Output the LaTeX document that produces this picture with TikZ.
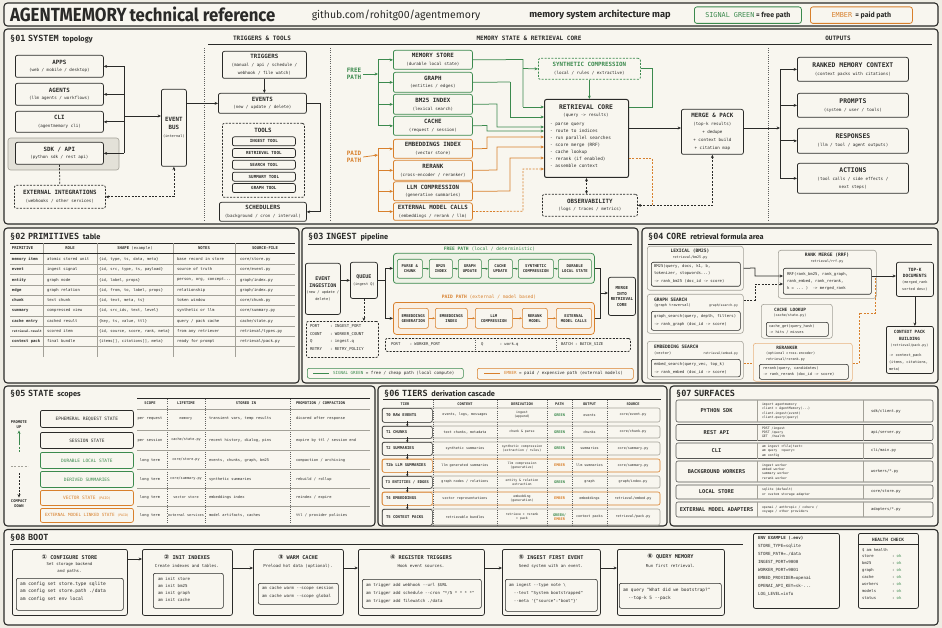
\documentclass[tikz,border=0pt]{standalone}
\usepackage{graphicx}
\usepackage{fontspec}
\setmonofont{DejaVu Sans Mono}
\renewcommand\familydefault{\ttdefault}
\newfontfamily\hsans{Fira Sans}
\newfontfamily\djs{DejaVu Sans}
\usetikzlibrary{arrows.meta,calc}
\definecolor{paper}{HTML}{EFEDE4}
\definecolor{panel}{HTML}{F8F6EF}
\definecolor{ink}{HTML}{2A2A28}
\definecolor{sg}{HTML}{3C8A4E}
\definecolor{em}{HTML}{D8802C}
\definecolor{gl}{HTML}{A3A198}
\definecolor{gfill}{HTML}{EEF2E6}
\definecolor{ofill}{HTML}{FAEFE2}
\definecolor{hl}{HTML}{E3E1D8}
\newcommand\fs[2]{\fontsize{#1}{#2}\selectfont}
\newcommand\hd{\bfseries\fs{5.8}{6.6}}
\newcommand\hdb{\bfseries\fs{6.4}{7}}
\newcommand\sbt{\fs{4.2}{5.2}}
\newcommand\BX[7]{\node[#1,anchor=north west,minimum width={#5-#3},minimum height={#6-#4}] (#2) at (#3,#4) {#7};}
\newcommand\secthd[3]{\node[anchor=base west,inner sep=0pt,font=\bfseries\fs{8.5}{9}] at (#1) {#2\hspace{2pt}{\hsans\bfseries\fs{7.4}{8} #3}};}
\newcommand\prow[6]{%
\node[tx,anchor=west,font=\bfseries\fs{3.9}{4.5}] at (12,#1) {#2};
\node[tx,anchor=west,font=\fs{3.9}{4.5}] at (47,#1) {#3};
\node[tx,anchor=west,font=\fs{3.8}{4.5}] at (99,#1) {#4};
\node[tx,anchor=west,font=\fs{3.9}{4.5}] at (177,#1) {#5};
\node[tx,anchor=west,font=\fs{3.9}{4.5}] at (240,#1) {#6};}
\newcommand\strow[5]{%
\node[tx,font=\fs{3.7}{4.5}] at (150,#1) {#2};
\node[tx,font=\fs{3.5}{4.5}] at (186,#1) {#3};
\node[tx,anchor=west,font=\fs{3.7}{4.5}] at (209,#1) {#4};
\node[tx,anchor=west,font=\fs{3.7}{4.5}] at (296,#1) {#5};}
\newcommand\tirow[6]{%
\node[tx,font=\fs{3.4}{4.2}] at (465,#1) {#2};
\node[tx,font=\fs{3.2}{3.9},align=center] at (522,#1) {#3};
\node[tx,font=\bfseries\fs{3.6}{4.2},align=center] at (559.5,#1) {#4};
\node[tx,font=\fs{3.4}{4.2}] at (589.5,#1) {#5};
\node[tx,font=\fs{3.4}{4.2}] at (633,#1) {#6};}
\newcommand\sfrow[5]{%
\draw[draw=ink!80,line width=0.6pt,rounded corners=2pt,fill=panel] (676,#1) rectangle (933,#2);
\draw[thin] (757,#1) -- (757,#2); \draw[thin] (863,#1) -- (863,#2);
\pgfmathsetmacro\ymid{(#1+#2)/2}
\node[tx,font=\bfseries\fs{5.3}{6}] at (716.5,\ymid) {#3};
\node[tx,anchor=west,align=left,font=\fs{3.2}{4.4}] at (762,\ymid) {#4};
\node[tx,anchor=west,font=\fs{3.8}{4.5}] at (871,\ymid) {#5};}
\begin{document}
\begin{tikzpicture}[x=1pt,y=-1pt,
  every node/.style={text=ink},
  tx/.style={inner sep=0pt,outer sep=0pt},
  pnl/.style={draw=ink,line width=1.1pt,rounded corners=3.5pt,fill=panel},
  nb/.style={draw=ink,line width=0.75pt,rounded corners=2pt,fill=panel,align=center,inner sep=0pt,font=\fs{4.2}{7.8}},
  gb/.style={nb,draw=sg},
  ob/.style={nb,draw=em},
  dsh/.style={dash pattern=on 2pt off 1.4pt},
  db/.style={nb,dsh},
  grp/.style={draw=gl,line width=0.6pt,rounded corners=2.5pt,fill=panel,inner sep=0pt},
  ln/.style={draw=ink,line width=0.75pt},
  gln/.style={ln,draw=sg},
  oln/.style={ln,draw=em},
  ar/.style={ln,-{Stealth[length=3.4pt,width=3pt]}},
  gar/.style={ar,draw=sg},
  oar/.style={ar,draw=em},
  dar/.style={ln,{Stealth[length=3.4pt,width=3pt]}-{Stealth[length=3.4pt,width=3pt]}},
  sar/.style={ln,line width=0.6pt,-{Stealth[length=2.4pt,width=2.2pt]}},
  stp/.style={gb,line width=0.6pt,font=\bfseries\fs{3.9}{4.8}},
  ostp/.style={ob,line width=0.6pt,font=\bfseries\fs{3.9}{4.8}},
  stb/.style={nb,font=\fs{4.5}{5}},
  sep/.style={draw=ink!75,line width=0.5pt,dash pattern=on 0.8pt off 1.4pt},
  rule/.style={draw=ink,line width=0.6pt},
  thin/.style={draw=gl,line width=0.4pt},
]
\useasboundingbox (0,0) rectangle (942,628);
\fill[paper] (0,0) rectangle (942,628);

% ---------- title bar ----------
\draw[pnl] (4,3) rectangle (938,26);
\node[tx,anchor=base west] (ttl) at (10,21.5) {\hsans\bfseries\scalebox{0.89}[1]{\fs{19}{19}AGENTMEMORY}\hspace{3pt}\scalebox{0.93}[1]{\fs{18}{18}technical reference}};
\node[tx] (gh) at (396,15) {\hsans\fs{10.5}{11}github.com/rohitg00/agentmemory};
\node[tx] (map) at (600,15) {\hsans\bfseries\fs{9.3}{10}memory system architecture map};
\BX{nb,draw=sg,line width=0.8pt,rounded corners=2.5pt}{lgg}{694}{6.5}{801}{23}{{\color{sg}\fs{6.8}{7}SIGNAL GREEN}{\hsans\bfseries\fs{7}{7} = free path}}
\BX{nb,draw=em,line width=0.8pt,rounded corners=2.5pt}{lge}{810}{6.5}{912}{23}{{\color{em}\fs{6.8}{7}EMBER}{\hsans\bfseries\fs{7}{7}\ \ = paid path}}

% ---------- §01 ----------
\draw[pnl] (4,29) rectangle (938,224);
\secthd{10,42}{§01\hspace{2.5pt}SYSTEM}{topology}
\draw[rule] (208,44.5) -- (932,44.5);
\node[tx,font=\bfseries\fs{6}{6.5}] at (262,38.5) {TRIGGERS \& TOOLS};
\node[tx,font=\bfseries\fs{6}{6.5}] at (529,38.5) {MEMORY STATE \& RETRIEVAL CORE};
\node[tx,font=\bfseries\fs{6}{6.5}] at (838,38.5) {OUTPUTS};
\draw[sep] (204,48) -- (204,221);
\draw[sep] (330,48) -- (330,221);
\draw[sep] (768,48) -- (768,221);

\fill[hl,draw=gl,line width=0.6pt,rounded corners=2.5pt] (8,138) rectangle (119,170);
\BX{nb}{apps}{15}{55}{103}{77}{{\hd APPS}\\{\sbt (web / mobile / desktop)}}
\BX{nb}{agents}{15}{83}{103}{105}{{\hd AGENTS}\\{\sbt (llm agents / workflows)}}
\BX{nb}{cli}{15}{111}{103}{132}{{\hd CLI}\\{\sbt (agentmemory cli)}}
\BX{nb}{sdk}{15}{142}{103}{164}{{\hd SDK / API}\\{\sbt (python sdk / rest api)}}
\BX{db}{ext}{14}{185}{105}{208}{{\hd EXTERNAL INTEGRATIONS}\\{\sbt (webhooks / other services)}}
\BX{nb}{ebus}{161}{89}{186}{166}{{\hd EVENT}\\{\hd BUS}\\{\fs{3.6}{4.5}(internal)}}
\coordinate (lb) at (124,116);
\draw[ln] (lb |- apps.east) -- (lb |- sdk.east);
\foreach \n in {apps,agents,cli,sdk} {\draw[ar] (lb |- \n.east) -- (\n.east);}
\draw[ar] (lb) -- (lb -| ebus.west);
\draw[ln,dsh] (sdk.south) -- (ext.north);
\draw[dar,dsh] (ext.east) -| (ebus.south);

\BX{nb}{trig}{222}{51}{306}{78}{{\hd TRIGGERS}\\{\sbt (manual / api / schedule /}\\{\sbt webhook / file watch)}}
\BX{nb}{events}{218}{93}{306}{113}{{\hd EVENTS}\\{\sbt (new / update / delete)}}
\draw[ar] (ebus.east |- events.west) -- (events.west);
\draw[ar] (trig.south) -- (trig.south |- events.north);
\BX{db}{tools}{222}{123}{304}{197}{}
\node[tx,font=\hd] at (263,130) {TOOLS};
\BX{nb,font=\bfseries\fs{4.2}{5}}{tIng}{232}{136.5}{295}{145.5}{INGEST TOOL}
\BX{nb,font=\bfseries\fs{4.2}{5}}{tRet}{232}{148.2}{295}{157.2}{RETRIEVAL TOOL}
\BX{nb,font=\bfseries\fs{4.2}{5}}{tSea}{232}{159.8}{295}{168.8}{SEARCH TOOL}
\BX{nb,font=\bfseries\fs{4.2}{5}}{tSum}{232}{171.8}{295}{180.8}{SUMMARY TOOL}
\BX{nb,font=\bfseries\fs{4.2}{5}}{tGra}{232}{183.2}{295}{192.2}{GRAPH TOOL}
\BX{nb}{sched}{219}{202}{306}{221}{{\hd SCHEDULERS}\\{\sbt (background / cron / interval)}}
\draw[ar] (events.east) -- ++(14,0) |- (sched.east);

% memory column
\node[tx,font=\bfseries\fs{6}{7},text=sg,align=center] (fp) at (354,74) {FREE\\PATH};
\coordinate (gbus) at (378,74);
\draw[gar] ([xshift=2pt]fp.east) -- (gbus);
\BX{gb}{ms}{393}{50}{472}{69}{{\hd MEMORY STORE}\\{\sbt (durable local state)}}
\BX{gb}{graph}{393}{72}{472}{92}{{\hd GRAPH}\\{\sbt (entities / edges)}}
\BX{gb}{bm}{393}{94}{472}{114}{{\hd BM25 INDEX}\\{\sbt (lexical search)}}
\BX{gb}{cache}{393}{116}{472}{135}{{\hd CACHE}\\{\sbt (request / session)}}
\draw[gln] (gbus |- ms.west) -- (gbus |- cache.west);
\foreach \n in {ms,graph,bm,cache} {\draw[gar] (gbus |- \n.west) -- (\n.west);}
\node[tx,font=\bfseries\fs{6}{7},text=em,align=center] (pp) at (354,157) {PAID\\PATH};
\coordinate (obus) at (378,155);
\draw[oar] ([xshift=2pt]pp.east) -- (obus);
\BX{ob}{embi}{393}{139}{472}{158}{{\hd EMBEDDINGS INDEX}\\{\sbt (vector store)}}
\BX{ob}{rerank}{393}{160}{472}{180}{{\hd RERANK}\\{\sbt (cross-encoder / reranker)}}
\BX{ob}{llmc}{393}{181.5}{472}{200.5}{{\hd LLM COMPRESSION}\\{\sbt (generative summaries)}}
\BX{ob}{extm}{393}{202.5}{472}{220}{{\hd EXTERNAL MODEL CALLS}\\{\sbt (embeddings / rerank / llm)}}
\draw[oln] (obus |- embi.west) -- (obus |- extm.west);
\foreach \n in {embi,rerank,llmc,extm} {\draw[oar] (obus |- \n.west) -- (\n.west);}

% retrieval core
\BX{nb,line width=1pt}{core}{544}{99}{628}{177}{}
\node[tx,font=\bfseries\fs{6.4}{7}] at (586,107.5) {RETRIEVAL CORE};
\node[tx,font=\sbt] at (586,115.5) {(query -> results)};
\node[tx,anchor=north west,align=left,font=\fs{4.4}{7}] (corel) at (550,123.5) {- parse query\\- route to indices\\- run parallel searches\\- score merge (RRF)\\- cache lookup\\- rerank (if enabled)\\- assemble context};
\BX{db,draw=sg}{synth}{538}{58}{640}{79}{{\color{sg}\hd SYNTHETIC COMPRESSION}\\{\sbt (local / rules / extractive)}}
\draw[gar] (synth.south) -- (synth.south |- core.north);
\draw[gln] (synth.east) -| (652,107) -- (core.east |- 0,107);
\draw[gln] (ms.east) -- (523,59.5) -- (523,107);
\draw[gar] (523,68.5) -- (synth.west);
\draw[gar] (523,107) -- (core.west |- 0,107);
\draw[gln] (graph.east) -- (510,82);
\draw[gar] (510,82) |- (core.west |- 0,117);
\draw[gar] (bm.east) -- (497,104) |- (core.west |- 0,127);
\draw[gar] (cache.east) -- (487,125.5) |- (core.west |- 0,131);
\draw[oar] (embi.east) -- (487,148.5) |- (core.west |- 0,137);
\draw[oar] (rerank.east) -- (497,170) |- (core.west |- 0,147);
\draw[oar] (llmc.east) -- (510,191) |- (core.west |- 0,158);
\draw[oar,dsh] (extm.east) -- (523,211.2) |- (core.west |- 0,169);

\BX{nb}{merge}{681}{109}{743}{154}{{\hd MERGE \& PACK}\\{\sbt (top-k results)}\\{\sbt + dedupe}\\{\sbt + context build}\\{\sbt + citation map}}
\draw[ar] (core.east |- 0,128) -- (merge.west |- 0,128);
\BX{db}{obs}{542}{194}{637}{216}{{\hd OBSERVABILITY}\\{\sbt (logs / traces / metrics)}}
\draw[dar,dsh] (core.south) -- (core.south |- obs.north);
\draw[dar,dsh] (obs.east) -| (merge.south);
\draw[oln,dsh] (core.east |- 0,158) -- (652,158) -- (652,205);

% outputs
\coordinate (rbus) at (780,128);
\BX{nb}{rmc}{797}{57}{908}{81}{{\hdb RANKED MEMORY CONTEXT}\\{\sbt (context packs with citations)}}
\BX{nb}{prm}{797}{93}{908}{117}{{\hdb PROMPTS}\\{\sbt (system / user / tools)}}
\BX{nb}{resp}{797}{128}{908}{153}{{\hdb RESPONSES}\\{\sbt (llm / tool / agent outputs)}}
\BX{nb}{act}{797}{163}{908}{193}{{\hdb ACTIONS}\\{\sbt (tool calls / side effects /}\\{\sbt next steps)}}
\draw[ar] (merge.east |- rbus) -- (rbus);
\draw[ln] (rbus |- rmc.west) -- (rbus |- act.west);
\foreach \n in {rmc,prm,resp,act} {\draw[ar] (rbus |- \n.west) -- (\n.west);}

% ---------- §02 ----------
\draw[pnl] (4,228) rectangle (299,383);
\secthd{10,240}{§02\hspace{2.5pt}PRIMITIVES}{table}
\draw[rule,line width=0.8pt] (10,243.5) -- (295,243.5);
\foreach \xx in {43,97,173,235} {\draw[thin] (\xx,243.5) -- (\xx,357);}
\draw[rule,line width=0.5pt] (10,253.5) -- (295,253.5);
\foreach \yy in {264,274.5,285,295,305.5,316,326,336,346.5} {\draw[thin] (10,\yy) -- (295,\yy);}
\node[tx,anchor=west,font=\bfseries\fs{3.9}{4.5}] at (12,248.5) {PRIMITIVE};
\node[tx,font=\bfseries\fs{3.9}{4.5}] at (70,248.5) {ROLE};
\node[tx,font=\fs{3.9}{4.5}] at (135,248.5) {\textbf{SHAPE} (example)};
\node[tx,font=\bfseries\fs{3.9}{4.5}] at (204,248.5) {NOTES};
\node[tx,font=\bfseries\fs{3.9}{4.5}] at (265,248.5) {SOURCE-FILE};
\prow{259}{memory item}{atomic stored unit}{\{id, type, ts, data, meta\}}{base record in store}{core/store.py}
\prow{269.5}{event}{ingest signal}{\{id, src, type, ts, payload\}}{source of truth}{core/event.py}
\prow{280}{entity}{graph node}{\{id, label, props\}}{person, org, concept...}{graph/index.py}
\prow{290}{edge}{graph relation}{\{id, from, to, label, props\}}{relationship}{graph/index.py}
\prow{300}{chunk}{text chunk}{\{id, text, meta, ts\}}{token window}{core/chunk.py}
\prow{310.5}{summary}{compressed view}{\{id, src\_ids, text, level\}}{synthetic or llm}{core/summary.py}
\prow{321}{cache entry}{cached result}{\{key, ts, value, ttl\}}{query / pack cache}{cache/state.py}
\prow{331}{{\fs{3.1}{4}retrieval.result}}{scored item}{\{id, source, score, rank, meta\}}{from any retriever}{retrieval/types.py}
\prow{341}{context pack}{final bundle}{\{items[], citations[], meta\}}{ready for prompt}{retrieval/pack.py}

% ---------- §03 ----------
\draw[pnl] (302,228) rectangle (638,383);
\secthd{308,240}{§03\hspace{2.5pt}INGEST}{pipeline}
\draw[rule] (308,244) -- (632,244);
\BX{nb,font=\fs{4}{6.5}}{ei}{305}{263}{340}{314}{{\bfseries\fs{5}{6}EVENT}\\{\bfseries\fs{5}{6}INGESTION}\\{\fs{3.6}{4.5}(new / update /}\\{\fs{3.6}{4.5}delete)}}
\BX{nb,font=\fs{4}{7}}{queue}{350}{262}{377}{298}{{\bfseries\fs{5}{6}QUEUE}\\{\fs{3.6}{4.5}(ingest Q)}}
\draw[ar] (ei.east |- queue.west) -- (queue.west);
\node[tx,text=sg,font=\fs{4.6}{5}] at (489.5,249) {\textbf{FREE PATH} (local / deterministic)};
\BX{gb,fill=gfill,rounded corners=3pt}{free}{393}{253}{594}{283}{}
\BX{stp}{s1}{397}{259}{422}{278}{PARSE \&\\CHUNK}
\BX{stp}{s2}{429}{259}{452}{278}{BM25\\INDEX}
\BX{stp}{s3}{458}{259}{481}{278}{GRAPH\\UPDATE}
\BX{stp}{s4}{488}{259}{512}{278}{CACHE\\UPDATE}
\BX{stp}{s5}{518}{259}{553}{278}{SYNTHETIC\\COMPRESSION}
\BX{stp}{s6}{558}{259}{591}{278}{DURABLE\\LOCAL STATE}
\foreach \a/\b in {s1/s2,s2/s3,s3/s4,s4/s5,s5/s6} {\draw[sar,draw=sg] (\a.east) -- (\b.west);}
\node[tx,text=em,font=\fs{4.6}{5}] at (489,297.5) {\textbf{PAID PATH} (external / model based)};
\BX{ob,fill=ofill,rounded corners=3pt}{paid}{393}{302}{594}{334}{}
\BX{ostp}{p1}{398}{308}{428}{328}{EMBEDDINGS\\GENERATION}
\BX{ostp}{p2}{435}{308}{467}{328}{EMBEDDINGS\\INDEX}
\BX{ostp}{p3}{475}{308}{512}{328}{LLM\\COMPRESSION}
\BX{ostp}{p4}{522}{308}{547}{328}{RERANK\\MODEL}
\BX{ostp}{p5}{556}{308}{591}{328}{EXTERNAL\\MODEL CALLS}
\foreach \a/\b in {p1/p2,p2/p3,p3/p4,p4/p5} {\draw[sar,draw=em] (\a.east) -- (\b.west);}
\coordinate (qf) at (385,280);
\draw[ln] (queue.east |- qf) -- (qf);
\draw[ln] (qf |- free.west) -- (qf |- paid.west);
\draw[ar] (qf |- free.west) -- (free.west);
\draw[ar] (qf |- paid.west) -- (paid.west);
\BX{nb,font=\bfseries\fs{4.1}{5.5}}{mir}{608}{277}{635}{315}{MERGE\\INTO\\RETRIEVAL\\CORE}
\coordinate (mj) at (600,293);
\draw[ln] (free.east) -| (mj);
\draw[ln] (paid.east) -| (mj);
\draw[ar] (mj) -- (mir.west |- mj);
\BX{db}{cfg}{306}{321}{378}{357}{}
\draw[ar,dsh] (queue.south) -- (queue.south |- cfg.north);
\node[tx,anchor=north west,align=left,font=\fs{4}{7.5}] at (310,325) {PORT\\COUNT\\Q\\RETRY};
\node[tx,anchor=north west,align=left,font=\fs{4}{7.5}] at (330,325) {: INGEST\_PORT\\: WORKER\_COUNT\\: ingest.q\\: RETRY\_POLICY};
\BX{db}{wk}{385}{338}{630}{351}{}
\draw[sep] (475,338) -- (475,351);
\draw[sep] (556,338) -- (556,351);
\node[tx,anchor=west,font=\fs{3.9}{4.5}] at (391,344.5) {PORT\ \ \ \ : WORKER\_PORT};
\node[tx,anchor=west,font=\fs{3.9}{4.5}] at (481,344.5) {Q\ \ \ \ \ \ \ : work.q};
\node[tx,anchor=west,font=\fs{3.9}{4.5}] at (561,344.5) {BATCH : BATCH\_SIZE};
\BX{nb,draw=sg,line width=0.6pt}{lg1}{307}{368}{463}{378}{}
\draw[gln,line width=1pt] (313,373) -- (329,373);
\node[tx,anchor=west,font=\fs{4.2}{5}] at (333,373) {\textcolor{sg}{SIGNAL GREEN} = free / cheap path (local compute)};
\BX{nb,draw=em,line width=0.6pt}{lg2}{477}{368}{633}{379}{}
\draw[oln,line width=1pt] (484,373.5) -- (500,373.5);
\node[tx,anchor=west,font=\fs{4.2}{5}] at (504,373.5) {\textcolor{em}{EMBER} = paid / expensive path (external models)};

% ---------- §04 ----------
\draw[pnl] (642,228) rectangle (938,383);
\secthd{648,240}{§04\hspace{2.5pt}CORE}{retrieval formula area}
\draw[rule] (648,244) -- (932,244);
\BX{grp}{lexg}{647}{246}{743}{290}{}
\node[tx,font=\bfseries\fs{4.6}{5}] at (690,251) {LEXICAL (BM25)};
\node[tx,font=\fs{3.4}{4}] at (690,257.5) {retrieval/bm25.py};
\BX{nb,line width=0.6pt}{lexi}{651}{262}{740}{286}{}
\node[tx,anchor=north west,align=left,font=\fs{3.9}{7.5}] at (654,264.5) {BM25(query, docs, k1, b,\\tokenizer, stopwords...)\\-> rank\_bm25 (doc\_id -> score)};
\BX{grp}{grs}{647}{294}{743}{333}{}
\node[tx,anchor=west,font=\bfseries\fs{4.6}{5}] at (654,299.5) {GRAPH SEARCH};
\node[tx,anchor=west,font=\fs{3.6}{4}] at (654,306) {(graph traversal)};
\node[tx,anchor=east,font=\fs{3.2}{4}] at (738,306) {graph/search.py};
\BX{nb,line width=0.6pt}{grsi}{651}{311}{740}{330}{}
\node[tx,anchor=north west,align=left,font=\fs{3.9}{7.8}] at (654,314.5) {graph\_search(query, depth, filters)\\-> rank\_graph (doc\_id -> score)};
\BX{grp}{ems}{647}{341}{743}{379}{}
\node[tx,anchor=west,font=\bfseries\fs{4.6}{5}] at (654,346.5) {EMBEDDING SEARCH};
\node[tx,anchor=west,font=\fs{3.6}{4}] at (654,353) {(vector)};
\node[tx,anchor=east,font=\fs{3.2}{4}] at (738,354) {retrieval/embed.py};
\BX{nb,line width=0.6pt}{emsi}{651}{359}{740}{376.5}{}
\node[tx,anchor=north west,align=left,font=\fs{3.9}{7.8}] at (654,362.5) {embed\_search(query\_vec, top\_k)\\-> rank\_embed (doc\_id -> score)};
\BX{grp}{rrfg}{778}{250}{876}{298}{}
\node[tx,font=\bfseries\fs{4.6}{5}] at (827,255.5) {RANK MERGE (RRF)};
\node[tx,font=\fs{3.4}{4}] at (827,262) {retrieval/rrf.py};
\BX{nb,line width=0.6pt}{rrfi}{783}{268}{871}{294}{}
\node[tx,anchor=north west,align=left,font=\fs{3.9}{7}] at (787,272.5) {RRF(rank\_bm25, rank\_graph,\\rank\_embed, rank\_rerank,\\k = ... )\ \ -> merged\_rank};
\draw[ar] (lexg.east) -- (755,268) |- (rrfi.west |- 0,276);
\draw[ar,dsh] (grs.east |- 0,300) -- (755,300) |- (rrfi.west |- 0,284);
\BX{nb,font=\fs{4}{6.4}}{topk}{896}{262}{933}{296}{{\bfseries\fs{4.4}{5.5}TOP-K}\\{\bfseries\fs{4.4}{5.5}DOCUMENTS}\\{\fs{3.5}{4.5}(merged\_rank}\\{\fs{3.5}{4.5}sorted desc)}}
\draw[ar] (rrfi.east |- 0,276) -- (topk.west |- 0,276);
\BX{nb}{ctx}{886}{326}{933}{373}{}
\draw[ar] (topk.south) -- (topk.south |- ctx.north);
\node[tx,align=center,font=\bfseries\fs{4.3}{7}] at (909.5,335.5) {CONTEXT PACK\\BUILDING};
\node[tx,font=\fs{3.3}{4}] at (909.5,346) {(retrieval/pack.py)};
\node[tx,anchor=north west,align=left,font=\fs{3.6}{7}] at (889,353.5) {-> context\_pack\\(items, citations,\\meta)};
\BX{grp}{clg}{761}{304}{832}{338}{}
\node[tx,font=\bfseries\fs{4.4}{5}] at (790,309.5) {CACHE LOOKUP};
\node[tx,font=\fs{3.4}{4}] at (790,316) {(cache/state.py)};
\BX{nb,line width=0.6pt}{cli2}{766}{322}{828}{336}{}
\node[tx,anchor=north west,align=left,font=\fs{3.6}{6.5}] at (769,324.5) {cache\_get(query\_hash)\\-> hits / misses};
\BX{grp,draw=em!60}{rrk}{753}{343}{852}{381}{}
\node[tx,font=\bfseries\fs{4.4}{5}] at (787,347.5) {RERANKER};
\node[tx,anchor=west,font=\fs{3.4}{4}] at (766,354) {(optional cross-encoder)};
\node[tx,anchor=west,font=\fs{3.4}{4}] at (766,360) {retrieval/rerank.py};
\BX{nb,line width=0.6pt}{rrki}{759}{364}{848}{379}{}
\node[tx,anchor=north west,align=left,font=\fs{3.7}{6.5}] at (763,366.5) {rerank(query, candidates)\\-> rank\_rerank (doc\_id -> score)};
\draw[oln,dsh] (ems.east |- 0,363) -- (rrk.west |- 0,363);
\draw[oln,dsh] (rrk.east |- 0,363) -- (859,363) -- (859,313) -- (875,313) -- (875,277);

% ---------- §05 ----------
\draw[pnl] (4,386) rectangle (375,526);
\secthd{10,396}{§05\hspace{2.5pt}STATE}{scopes}
\draw[rule,line width=0.5pt] (137,398.5) -- (370,398.5);
\draw[thin] (137,409) -- (370,409);
\node[tx,font=\bfseries\fs{3.7}{4.5}] at (150,403.5) {SCOPE};
\node[tx,font=\bfseries\fs{3.7}{4.5}] at (186,403.5) {LIFETIME};
\node[tx,font=\bfseries\fs{3.7}{4.5}] at (246,403.5) {STORED IN};
\node[tx,anchor=west,font=\bfseries\fs{3.7}{4.5}] at (296,403.5) {PROMOTION / COMPACTION};
\foreach \xx in {167,205,290} {\draw[sep] (\xx,399) -- (\xx,524);}
\foreach \yy in {430,450,469.5,488.5,506.5} {\draw[thin] (137,\yy) -- (370,\yy);}
\BX{stb}{st1}{40}{410}{133}{427}{EPHEMERAL REQUEST STATE}
\BX{stb}{st2}{40}{432}{133}{448}{SESSION STATE}
\BX{stb,draw=sg,text=sg}{st3}{40}{452}{133}{468}{DURABLE LOCAL STATE}
\BX{stb,draw=sg,text=sg}{st4}{40}{471}{133}{487}{DERIVED SUMMARIES}
\BX{stb,draw=em,text=em}{st5}{40}{490}{133}{505}{VECTOR STATE {\fs{3.4}{4}(PAID)}}
\BX{stb,draw=em,text=em}{st6}{40}{508}{133}{522}{\fs{4.3}{5}EXTERNAL MODEL LINKED STATE {\fs{3.2}{4}(PAID)}}
\strow{418.5}{per request}{memory}{transient vars, temp results}{dicared after response}
\strow{440}{per session}{cache/state.py}{recent history, dialog, pins}{expire by ttl / session end}
\strow{460}{long term}{core/store.py}{events, chunks, graph, bm25}{compaction / archiving}
\strow{479}{long term}{core/summary.py}{synthetic summaries}{rebuild / rollup}
\strow{497.5}{long term}{vector store}{embeddings index}{reindex / expire}
\strow{515}{long term}{external services}{model artifacts, caches}{ttl / provider policies}
\node[tx,align=center,font=\bfseries\fs{3.8}{5}] (pu) at (19,424.5) {PROMOTE\\UP};
\draw[gln,dsh] (19,452) -- (19,444);
\draw[gar] (19,445) -- ([yshift=-2pt]pu.south);
\draw[draw=gl,line width=0.6pt,dsh] (11,466) -- (28,466);
\node[tx,align=center,font=\bfseries\fs{3.8}{5}] (cd) at (19,503.5) {COMPACT\\DOWN};
\draw[ar,dsh] (19,473) -- ([yshift=2pt]cd.north);

% ---------- §06 ----------
\draw[pnl] (378,386) rectangle (667,526);
\secthd{384,396}{§06\hspace{2.5pt}TIERS}{derivation cascade}
\draw[rule,line width=0.5pt] (383,399) -- (661,399);
\node[tx,font=\bfseries\fs{3.6}{4.5}] at (405,404) {TIER};
\node[tx,font=\bfseries\fs{3.6}{4.5}] at (465,404) {CONTENT};
\node[tx,font=\bfseries\fs{3.6}{4.5}] at (522,404) {DERIVATION};
\node[tx,font=\bfseries\fs{3.6}{4.5}] at (559.5,404) {PATH};
\node[tx,font=\bfseries\fs{3.6}{4.5}] at (589.5,404) {OUTPUT};
\node[tx,font=\bfseries\fs{3.6}{4.5}] at (633,404) {SOURCE};
\draw[draw=gl,line width=0.6pt,rounded corners=2pt,fill=panel] (382,408) rectangle (660,422);
\draw[draw=gl,line width=0.6pt,rounded corners=2pt,fill=panel] (382,426) rectangle (660,438);
\draw[draw=gl,line width=0.6pt,rounded corners=2pt,fill=panel] (382,442) rectangle (660,455);
\draw[draw=em,line width=0.6pt,rounded corners=2pt,fill=panel] (382,459) rectangle (660,472);
\draw[draw=gl,line width=0.6pt,rounded corners=2pt,fill=panel] (382,476) rectangle (660,488);
\draw[draw=em,line width=0.6pt,rounded corners=2pt,fill=panel] (382,492) rectangle (660,505);
\draw[draw=gl,line width=0.6pt,rounded corners=2pt,fill=panel] (382,509) rectangle (660,525);
\BX{nb,line width=0.6pt}{tb0}{382}{408}{432}{422}{}
\BX{nb,line width=0.6pt}{tb1}{382}{426}{432}{438}{}
\BX{nb,line width=0.6pt}{tb2}{382}{442}{432}{455}{}
\BX{nb,line width=0.6pt,draw=em}{tb3}{382}{459}{432}{472}{}
\BX{nb,line width=0.6pt}{tb4}{382}{476}{432}{488}{}
\BX{nb,line width=0.6pt,draw=em}{tb5}{382}{492}{432}{505}{}
\BX{nb,line width=0.6pt}{tb6}{382}{509}{432}{525}{}
\foreach \a/\b in {tb0/tb1,tb1/tb2,tb2/tb3,tb3/tb4,tb4/tb5,tb5/tb6} {\draw[sar] ([yshift=1.5pt]\a.south) -- ([yshift=-0.5pt]\b.north);}
\foreach \xx in {433,497,547,572,607} {\draw[sep] (\xx,399.5) -- (\xx,525);}
\node[tx,anchor=west,font=\bfseries\fs{3.9}{4.5}] at (386,415) {T0 RAW EVENTS};
\node[tx,anchor=west,font=\bfseries\fs{3.9}{4.5}] at (386,432) {T1 CHUNKS};
\node[tx,anchor=west,font=\bfseries\fs{3.9}{4.5}] at (386,448.5) {T2 SUMMARIES};
\node[tx,anchor=west,font=\bfseries\fs{3.9}{4.5}] at (386,465.5) {T2b LLM SUMMARIES};
\node[tx,anchor=west,font=\bfseries\fs{3.8}{4.5}] at (385.5,482) {T3 ENTITIES / EDGES};
\node[tx,anchor=west,font=\bfseries\fs{3.9}{4.5}] at (386,498.5) {T4 EMBEDDINGS};
\node[tx,anchor=west,font=\bfseries\fs{3.9}{4.5}] at (386,517) {T5 CONTEXT PACKS};
\tirow{415}{events, logs, messages}{ingest\\(append)}{\textcolor{sg}{GREEN}}{events}{core/event.py}
\tirow{432}{text chunks, metadata}{chunk \& parse}{\textcolor{sg}{GREEN}}{chunks}{core/chunk.py}
\tirow{448.5}{synthetic summaries}{synthetic compression\\(extraction / rules)}{\textcolor{sg}{GREEN}}{summaries}{core/summary.py}
\tirow{465.5}{llm generated summaries}{llm compression\\(generative)}{\textcolor{em}{EMBER}}{llm summaries}{core/summary.py}
\tirow{482}{graph nodes / relations}{entity \& relation\\extraction}{\textcolor{sg}{GREEN}}{graph}{graph/index.py}
\tirow{498.5}{vector representations}{embedding\\(generation)}{\textcolor{em}{EMBER}}{embeddings}{retrieval/embed.py}
\tirow{517}{retrievable bundles}{retrieve + rerank\\+ pack}{\textcolor{sg}{GREEN/}\\\textcolor{em}{EMBER}}{context packs}{retrieval/pack.py}

% ---------- §07 ----------
\draw[pnl] (670,386) rectangle (938,526);
\secthd{676,396}{§07\hspace{2.5pt}SURFACES}{}
\sfrow{400}{422}{PYTHON SDK}{import agentmemory\\client = AgentMemory(...)\\client.ingest(event)\\client.query(query)}{sdk/client.py}
\sfrow{424.5}{440.5}{REST API}{POST /ingest\\POST /query\\GET\ \ /health}{api/server.py}
\sfrow{443}{458.5}{CLI}{am ingest <file|text>\\am query\ \ <query>\\am config}{cli/main.py}
\sfrow{461}{482}{BACKGROUND WORKERS}{ingest worker\\embed worker\\summary worker\\rerank worker}{workers/*.py}
\sfrow{485}{499}{LOCAL STORE}{sqlite (default)\\or custom storage adapter}{core/store.py}
\sfrow{502}{517}{EXTERNAL MODEL ADAPTERS}{openai / anthropic / cohere /\\voyage / other providers}{adapters/*.py}

% ---------- §08 ----------
\draw[pnl] (4,529.5) rectangle (938,625);
\secthd{10,540}{§08\hspace{2.5pt}BOOT}{}
\draw[rule] (10,544) -- (743,544);
% step 1
\BX{nb}{b1}{12}{549}{127}{615}{}
\node[tx,font=\bfseries\fs{5.2}{6}] at (69.5,557) {{\djs\fs{6.5}{7}①}\ CONFIGURE STORE};
\node[tx,align=center,font=\fs{4}{7}] at (69.5,568) {Set storage backend\\and paths.};
\BX{nb,line width=0.6pt}{b1c}{16}{578}{123}{610}{}
\node[tx,anchor=north west,align=left,font=\fs{4.6}{7.4}] at (20,582) {am config set store.type sqlite\\am config set store.path ./data\\am config set env local};
% step 2
\BX{nb}{b2}{142}{549}{232}{615}{}
\node[tx,font=\bfseries\fs{5.2}{6}] at (187,557) {{\djs\fs{6.5}{7}②}\ INIT INDEXES};
\node[tx,font=\fs{4.1}{5}] at (187,565.5) {Create indexes and tables.};
\BX{nb,line width=0.6pt}{b2c}{153}{573}{223}{608}{}
\node[tx,anchor=north west,align=left,font=\fs{4.1}{7.2}] at (158,577) {am init store\\am init bm25\\am init graph\\am init cache};
% step 3
\BX{nb}{b3}{253}{549}{343}{615}{}
\node[tx,font=\bfseries\fs{5.2}{6}] at (298,557) {{\djs\fs{6.5}{7}③}\ WARM CACHE};
\node[tx,font=\fs{4.1}{5}] at (298,566) {Preload hot data (optional).};
\BX{nb,line width=0.6pt}{b3c}{258}{583}{338}{604}{}
\node[tx,anchor=north west,align=left,font=\fs{4.1}{7.5}] at (262,586.5) {am cache warm --scope session\\am cache warm --scope global};
% step 4
\BX{nb}{b4}{358}{549}{484}{615}{}
\node[tx,font=\bfseries\fs{5.2}{6}] at (421,557) {{\djs\fs{6.5}{7}④}\ REGISTER TRIGGERS};
\node[tx,font=\fs{4.1}{5}] at (421,566) {Hook event sources.};
\BX{nb,line width=0.6pt}{b4c}{362}{579}{481}{608}{}
\node[tx,anchor=north west,align=left,font=\fs{4.1}{8}] at (366,583) {am trigger add webhook --url \$URL\\am trigger add schedule --cron "*/5 * * * *"\\am trigger add filewatch ./data};
% step 5
\BX{nb}{b5}{502}{549}{600}{615}{}
\node[tx,font=\bfseries\fs{5.2}{6}] at (551,557) {{\djs\fs{6.5}{7}⑤}\ INGEST FIRST EVENT};
\node[tx,font=\fs{4.1}{5}] at (551,566) {Seed system with an event.};
\BX{nb,line width=0.6pt}{b5c}{505}{579}{597}{611}{}
\node[tx,anchor=north west,align=left,font=\fs{4.1}{8}] at (509,583) {am ingest --type note \textbackslash\\\ \ --text "System bootstrapped"\\\ \ --meta '\{"source":"boot"\}'};
% step 6
\BX{nb}{b6}{617}{549}{724}{615}{}
\node[tx,font=\bfseries\fs{5.2}{6}] at (670.5,557) {{\djs\fs{6.5}{7}⑥}\ QUERY MEMORY};
\node[tx,font=\fs{4.1}{5}] at (670.5,566) {Run first retrieval.};
\BX{nb,line width=0.6pt}{b6c}{619}{583}{721}{608}{}
\node[tx,anchor=north west,align=left,font=\fs{4.4}{8}] at (623,588) {am query "What did we bootstrap?"\\\ \ --top-k 5 --pack};
\draw[ar] (b1.east |- 0,559) -- (b2.west |- 0,559);
\draw[ar] (b2.east |- 0,568) -- (b3.west |- 0,568);
\draw[ar] (b3.east |- 0,568) -- (b4.west |- 0,568);
\draw[ar] (b4.east |- 0,568) -- (b5.west |- 0,568);
\draw[ar] (b5.east |- 0,568) -- (b6.west |- 0,568);
% env
\BX{nb}{env}{753}{533}{839}{608}{}
\node[tx,anchor=north west,align=left,font=\fs{4.2}{8}] at (758,536.8) {\textbf{ENV EXAMPLE (.env)}\\STORE\_TYPE=sqlite\\STORE\_PATH=./data\\INGEST\_PORT=9000\\WORKER\_PORT=9001\\EMBED\_PROVIDER=openai\\OPENAI\_API\_KEY=sk-...\\LOG\_LEVEL=info};
% health
\BX{nb}{hc}{858}{533}{918}{608}{}
\node[tx,font=\bfseries\fs{4.4}{5}] at (888,539.5) {HEALTH CHECK};
\draw[ln,line width=0.6pt] (hc.west |- 0,544.5) -- (hc.east |- 0,544.5);
\node[tx,anchor=west,font=\fs{3.9}{4.5}] at (862,550.5) {\$ am health};
\node[tx,anchor=north west,align=left,font=\fs{3.9}{7}] at (862,555) {store\\bm25\\graph\\cache\\workers\\models\\status};
\node[tx,anchor=north west,align=left,font=\fs{3.9}{7}] at (892,555) {: \textcolor{sg}{ok}\\: \textcolor{sg}{ok}\\: \textcolor{sg}{ok}\\: \textcolor{sg}{ok}\\: \textcolor{sg}{ok}\\: \textcolor{sg}{ok}\\: \textcolor{sg}{ok}};
\end{tikzpicture}
\end{document}
